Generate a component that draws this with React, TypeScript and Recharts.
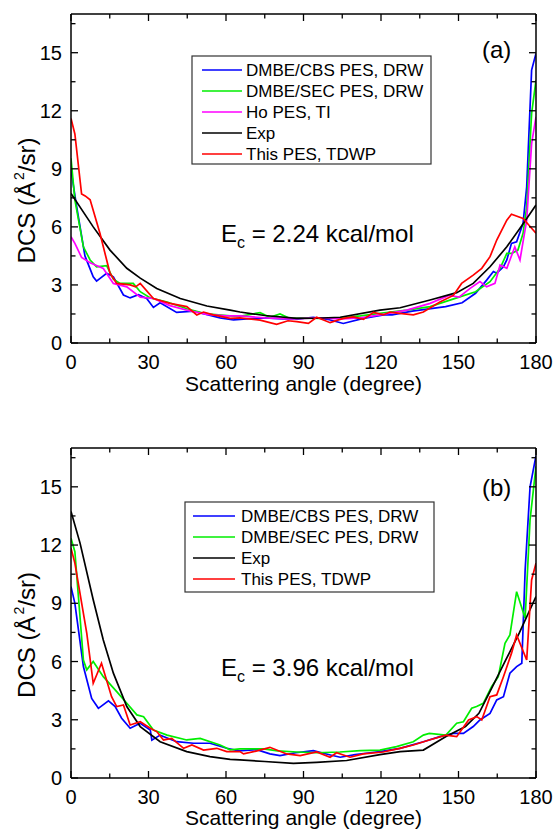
import React from "react";
import { LineChart, Line, XAxis, YAxis } from "recharts";

// ---------- Panel (a): Ec = 2.24 kcal/mol  ([angle, DCS]) ----------
const A_CBS: [number, number][] = [
  [0, 8.94], [2, 7.2], [5.4, 4.5], [8.6, 3.42], [9.9, 3.2], [13.8, 3.6], [16.4, 3.42],
  [20.3, 2.48], [22.9, 2.33], [26.1, 2.5], [29.3, 2.3], [31.9, 1.84], [34.5, 2.08],
  [40.9, 1.58], [47.4, 1.65], [57.7, 1.3], [62.9, 1.19], [68, 1.25], [75, 1.3], [82, 1.25],
  [88, 1.25], [93.8, 1.33], [100, 1.2], [105.4, 1.01], [113.2, 1.27], [121, 1.45],
  [124.3, 1.45], [132.1, 1.65], [145, 1.88], [151.4, 2.08], [156.6, 2.57], [160.9, 3.25],
  [163.5, 3.69], [164.8, 3.6], [167.4, 3.94], [168.7, 4.29], [170.5, 5.15], [172.5, 5.23],
  [175, 6.18], [176.4, 8.07], [178.3, 14.1], [180, 14.96],
];
const A_SEC: [number, number][] = [
  [0, 9.54], [1.5, 7.4], [4.8, 4.97], [7.4, 4.29], [9.9, 3.94], [13.8, 4.0], [16.4, 3.3],
  [19, 3.08], [24.1, 3.08], [26.8, 2.65], [30.7, 2.33], [37.2, 2.12], [44.9, 1.77],
  [52.6, 1.5], [61.6, 1.4], [65.4, 1.38], [73.2, 1.57], [77, 1.33], [80.9, 1.5], [84.8, 1.27],
  [90, 1.3], [96.4, 1.27], [104, 1.3], [112, 1.4], [119.6, 1.53], [130, 1.7], [139, 1.88],
  [150.2, 2.37], [156.6, 2.65], [162.2, 3.17], [166.1, 3.86], [168.7, 4.63], [170.6, 4.63],
  [173, 4.8], [175, 5.67], [176.4, 7.04], [178.3, 11.86], [180, 13.58],
];
const A_HO: [number, number][] = [
  [0, 5.49], [1.5, 5.15], [4.1, 4.42], [7.4, 4.15], [12.5, 3.85], [16.4, 3.08], [21.6, 2.9],
  [26.8, 2.37], [31.9, 2.3], [38.3, 1.93], [44.8, 1.7], [52.6, 1.48], [60, 1.4], [65.4, 1.4],
  [75, 1.3], [85, 1.25], [95, 1.3], [105, 1.25], [112, 1.3], [119.6, 1.45], [130, 1.7],
  [139, 2.05], [146.3, 2.46], [150.2, 2.37], [154.5, 2.82], [158.3, 3.17], [160.9, 2.9],
  [164.1, 3.08], [166.1, 4.03], [168.7, 3.86], [171.8, 4.97], [173.8, 4.29], [176.4, 6.35],
  [178.3, 10.3], [180, 11.69],
];
const A_EXP: [number, number][] = [
  [0, 7.73], [8.6, 6.0], [15.1, 4.8], [21.6, 3.86], [26.8, 3.35], [33.2, 2.82], [42.3, 2.3],
  [52.6, 1.91], [61.6, 1.7], [65.4, 1.6], [75, 1.42], [87.4, 1.27], [95, 1.28], [104.2, 1.33],
  [119.6, 1.7], [127.4, 1.82], [139, 2.22], [149.3, 2.6], [155.7, 3.08], [162.2, 3.94],
  [168.7, 4.97], [175.1, 6.18], [180, 7.13],
];
const A_THIS: [number, number][] = [
  [0, 11.6], [1.5, 10.8], [4.1, 7.7], [5.5, 7.6], [7.4, 7.4], [11.2, 5.67], [15.1, 3.6],
  [17.7, 3.08], [22.9, 3.0], [25, 2.9], [26.8, 3.08], [31.9, 2.3], [38.3, 2.05], [44.8, 1.88],
  [48.7, 1.45], [51.3, 1.6], [55.1, 1.45], [61.6, 1.27], [65.4, 1.3], [73.2, 1.18],
  [79.6, 0.96], [84, 1.15], [87.4, 1.1], [91.9, 1.01], [95.1, 1.33], [100.3, 1.05],
  [105.4, 1.27], [109.3, 1.35], [113.2, 1.22], [117.1, 1.58], [121, 1.45], [123.4, 1.6],
  [127.3, 1.53], [132.5, 1.45], [136.4, 1.6], [142.8, 2.12], [148, 2.46], [151.2, 3.08],
  [155.7, 3.51], [159, 3.86], [162.2, 4.46], [164.8, 5.32], [168.7, 6.35], [170.5, 6.65],
  [175, 6.44], [178.3, 5.93], [180, 5.67],
];

// ---------- Panel (b): Ec = 3.96 kcal/mol ----------
const B_CBS: [number, number][] = [
  [0, 9.86], [1.5, 9.0], [4.8, 5.74], [8, 4.1], [10.6, 3.59], [14.5, 3.97], [17.1, 3.68],
  [19.6, 3.08], [22.9, 2.56], [26.8, 2.82], [30.7, 2.47], [31.3, 1.95], [34.5, 2.21],
  [40.9, 1.87], [47.4, 1.79], [53.8, 1.79], [60.3, 1.53], [65, 1.4], [71.9, 1.46], [77, 1.24],
  [80.9, 1.15], [87, 1.3], [93.8, 1.41], [100, 1.2], [104.2, 1.07], [110, 1.2], [115.8, 1.3],
  [119.6, 1.36], [127.3, 1.53], [136.4, 1.87], [142.8, 2.13], [148, 2.3], [151.9, 2.3],
  [155.7, 2.65], [158.3, 2.99], [162.2, 3.33], [164.8, 4.02], [167.4, 4.19], [169.9, 5.4],
  [172.5, 5.74], [174.5, 5.91], [175.8, 10.72], [177.7, 15.0], [180, 16.6],
];
const B_SEC: [number, number][] = [
  [0, 12.35], [1.5, 11.66], [4.8, 6.08], [6.1, 5.57], [8.6, 6.0], [12.5, 5.22], [17.7, 4.45],
  [21.6, 3.85], [25.5, 3.25], [28.1, 3.16], [31.9, 2.47], [37.2, 2.21], [44.8, 1.96],
  [50, 2.04], [57.7, 1.7], [61.6, 1.45], [65.4, 1.5], [74.5, 1.5], [80, 1.4], [87.4, 1.34],
  [95, 1.3], [104.1, 1.34], [112, 1.41], [119.6, 1.44], [126, 1.62], [132.5, 1.87],
  [136.4, 2.21], [138.7, 2.3], [145.1, 2.21], [149.3, 2.82], [151.9, 2.9], [155.1, 3.59],
  [157, 3.68], [159.6, 3.85], [162.8, 4.7], [165.4, 5.22], [168, 6.94], [169.9, 7.37],
  [172.5, 9.6], [175.8, 8.23], [177.7, 13.3], [180, 16.05],
];
const B_EXP: [number, number][] = [
  [0, 13.73], [3.5, 12.1], [8.6, 9.18], [12.5, 7.11], [16.4, 5.4], [21.6, 3.68], [26.8, 2.65],
  [34.5, 1.87], [44.8, 1.36], [53.8, 1.1], [61.6, 0.96], [65.4, 0.93], [75, 0.85], [86.1, 0.75],
  [95, 0.8], [106.7, 0.9], [119.6, 1.2], [127.4, 1.36], [136.4, 1.44], [145, 2.13],
  [152.7, 2.65], [157.9, 3.33], [163.1, 4.7], [168.3, 6.08], [173.5, 7.46], [180, 9.35],
];
const B_THIS: [number, number][] = [
  [0, 11.84], [1.5, 11.07], [6.1, 7.46], [8.6, 4.88], [11.8, 5.91], [15.7, 4.19], [17.7, 3.68],
  [20.3, 3.76], [22.9, 2.73], [26.8, 2.9], [30.7, 2.56], [33.3, 2.38], [35.8, 1.96], [39, 2.04],
  [43.6, 1.53], [46.8, 1.7], [51.3, 1.44], [56.4, 1.53], [60.3, 1.36], [65.4, 1.36],
  [66.8, 1.24], [72, 1.4], [77, 1.58], [83.5, 1.24], [88.7, 1.15], [95.1, 1.34], [100.3, 1.07],
  [102.8, 1.3], [108, 1.07], [113.2, 1.24], [120.9, 1.34], [127.3, 1.53], [132.5, 1.7],
  [138.7, 1.96], [145.1, 2.21], [149.3, 2.13], [153.9, 2.99], [157.1, 3.16], [159, 2.99],
  [162.2, 4.19], [164.8, 4.28], [167.4, 5.22], [170.5, 6.42], [172.5, 7.37], [176.4, 6.08],
  [178.3, 10.2], [180, 11.07],
];

const X_TICKS = [0, 15, 30, 45, 60, 75, 90, 105, 120, 135, 150, 165, 180];
const Y_TICKS = [0, 1.5, 3, 4.5, 6, 7.5, 9, 10.5, 12, 13.5, 15, 16.5];

const FONT = "'Liberation Sans', Arial, Helvetica, sans-serif";
const W = 554;
const H = 400;
const LEFT = 71;
const RIGHT = 536;
const TOP = 14;

type Series = { name: string; color: string; pts: [number, number][] };

const toRows = (pts: [number, number][]) => pts.map(([a, v]) => ({ a, v }));

function Panel(props: {
  series: Series[];
  bottom: number;
  ec: string;
  tag: string;
  tagY: number;
  legend: { left: number; top: number; width: number; height: number; lineOff: number; lineLen: number; textOff: number };
}) {
  const { series, bottom, ec, tag, tagY, legend } = props;

  const bottomTick = (p: any) => {
    const v = p.payload.value;
    const major = v % 30 === 0;
    return (
      <g>
        <line x1={p.x} x2={p.x} y1={bottom} y2={bottom - (major ? 7 : 4.5)} stroke="#000" strokeWidth={1.3} />
        {major && (
          <text x={p.x} y={bottom + 26} textAnchor="middle" fontSize={20} fontFamily={FONT} fill="#000">
            {v}
          </text>
        )}
      </g>
    );
  };
  const topTick = (p: any) => {
    const v = p.payload.value;
    const major = v % 30 === 0;
    return <line x1={p.x} x2={p.x} y1={TOP} y2={TOP + (major ? 7 : 4.5)} stroke="#000" strokeWidth={1.3} />;
  };
  const leftTick = (p: any) => {
    const v = p.payload.value;
    const major = v % 3 === 0;
    return (
      <g>
        <line x1={LEFT} x2={LEFT + (major ? 7 : 4.5)} y1={p.y} y2={p.y} stroke="#000" strokeWidth={1.3} />
        {major && (
          <text x={LEFT - 9} y={p.y + 7} textAnchor="end" fontSize={20} fontFamily={FONT} fill="#000">
            {v}
          </text>
        )}
      </g>
    );
  };
  const rightTick = (p: any) => {
    const v = p.payload.value;
    const major = v % 3 === 0;
    return <line x1={RIGHT} x2={RIGHT - (major ? 7 : 4.5)} y1={p.y} y2={p.y} stroke="#000" strokeWidth={1.3} />;
  };

  const midY = (TOP + bottom) / 2 + 22;

  return (
    <div style={{ position: "relative", width: W, height: H }}>
      <LineChart width={W} height={H} margin={{ top: 0, right: 0, left: 0, bottom: 0 }}>
        <XAxis
          xAxisId="b"
          type="number"
          dataKey="a"
          domain={[0, 180]}
          ticks={X_TICKS}
          allowDataOverflow
          height={H - bottom}
          tickLine={false}
          tick={bottomTick}
          axisLine={{ stroke: "#000", strokeWidth: 1.5 }}
          interval={0}
        />
        <XAxis
          xAxisId="t"
          orientation="top"
          type="number"
          dataKey="a"
          domain={[0, 180]}
          ticks={X_TICKS}
          allowDataOverflow
          height={TOP}
          tickLine={false}
          tick={topTick}
          axisLine={{ stroke: "#000", strokeWidth: 1.5 }}
          interval={0}
        />
        <YAxis
          yAxisId="l"
          type="number"
          domain={[0, 17]}
          ticks={Y_TICKS}
          allowDataOverflow
          width={LEFT}
          tickLine={false}
          tick={leftTick}
          axisLine={{ stroke: "#000", strokeWidth: 1.5 }}
          interval={0}
        />
        <YAxis
          yAxisId="r"
          orientation="right"
          type="number"
          domain={[0, 17]}
          ticks={Y_TICKS}
          allowDataOverflow
          width={W - RIGHT}
          tickLine={false}
          tick={rightTick}
          axisLine={{ stroke: "#000", strokeWidth: 1.5 }}
          interval={0}
        />
        {series.map((s) => (
          <Line
            key={s.name}
            xAxisId="b"
            yAxisId="l"
            data={toRows(s.pts)}
            dataKey="v"
            name={s.name}
            type="linear"
            stroke={s.color}
            strokeWidth={1.7}
            dot={false}
            activeDot={false}
            isAnimationActive={false}
          />
        ))}
      </LineChart>
      <svg
        width={W}
        height={H}
        style={{ position: "absolute", left: 0, top: 0, pointerEvents: "none" }}
        fontFamily={FONT}
      >
        {/* legend */}
        <rect
          x={legend.left}
          y={legend.top}
          width={legend.width}
          height={legend.height}
          fill="#fff"
          stroke="#333"
          strokeWidth={1.2}
        />
        {series.map((s, i) => {
          const cy = legend.top + 14 + i * 21;
          return (
            <g key={s.name}>
              <line
                x1={legend.left + legend.lineOff}
                x2={legend.left + legend.lineOff + legend.lineLen}
                y1={cy}
                y2={cy}
                stroke={s.color}
                strokeWidth={1.7}
              />
              <text x={legend.left + legend.textOff} y={cy + 6} fontSize={17} fill="#000">
                {s.name}
              </text>
            </g>
          );
        })}
        {/* panel tag */}
        <text x={482} y={tagY} fontSize={24} fill="#000">
          {tag}
        </text>
        {/* collision energy */}
        <text x={221} y={242} fontSize={24} fill="#000">
          E
          <tspan fontSize={16} dy={6}>
            c
          </tspan>
          <tspan dy={-6}>{" = " + ec}</tspan>
        </text>
        {/* axis titles */}
        <text x={(LEFT + RIGHT) / 2} y={391} fontSize={21} textAnchor="middle" fill="#000">
          Scattering angle (degree)
        </text>
        <text
          transform={`translate(35, ${midY}) rotate(-90)`}
          fontSize={24}
          textAnchor="middle"
          fill="#000"
        >
          DCS (Å
          <tspan fontSize={14} dy={-11} dx={2}>
            2
          </tspan>
          <tspan dy={11}>/sr)</tspan>
        </text>
      </svg>
    </div>
  );
}

const SERIES_A: Series[] = [
  { name: "DMBE/CBS PES, DRW", color: "#0000ff", pts: A_CBS },
  { name: "DMBE/SEC PES, DRW", color: "#00ee00", pts: A_SEC },
  { name: "Ho PES, TI", color: "#ff00ff", pts: A_HO },
  { name: "Exp", color: "#000000", pts: A_EXP },
  { name: "This PES, TDWP", color: "#ff0000", pts: A_THIS },
];
const SERIES_B: Series[] = [
  { name: "DMBE/CBS PES, DRW", color: "#0000ff", pts: B_CBS },
  { name: "DMBE/SEC PES, DRW", color: "#00ee00", pts: B_SEC },
  { name: "Exp", color: "#000000", pts: B_EXP },
  { name: "This PES, TDWP", color: "#ff0000", pts: B_THIS },
];

export default function App() {
  return (
    <div style={{ position: "absolute", left: 0, top: 0, width: 554, height: 834, background: "#fff" }}>
      <div style={{ position: "absolute", left: 0, top: 0 }}>
        <Panel
          series={SERIES_A}
          bottom={343}
          ec="2.24 kcal/mol"
          tag="(a)"
          tagY={58}
          legend={{ left: 192, top: 56, width: 239, height: 108, lineOff: 10, lineLen: 40, textOff: 54 }}
        />
      </div>
      <div style={{ position: "absolute", left: 0, top: 434 }}>
        <Panel
          series={SERIES_B}
          bottom={344}
          ec="3.96 kcal/mol"
          tag="(b)"
          tagY={62}
          legend={{ left: 185, top: 68, width: 249, height: 90, lineOff: 8, lineLen: 42, textOff: 56 }}
        />
      </div>
    </div>
  );
}
